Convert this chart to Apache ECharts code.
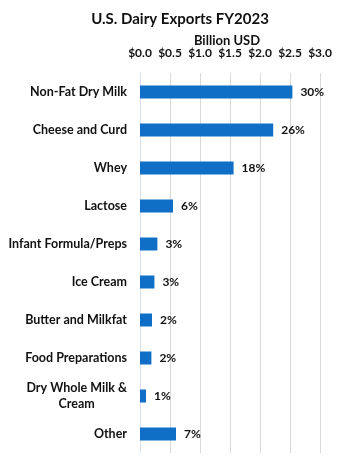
<!DOCTYPE html>
<html><head><meta charset="utf-8">
<script src="https://cdn.jsdelivr.net/npm/echarts@6/dist/echarts.min.js"></script>
<style>html,body{margin:0;padding:0;background:#fff}#c{width:342px;height:466px}</style>
</head><body><div id="c"></div>
<script>
const categories = ["Non-Fat Dry Milk","Cheese and Curd","Whey","Lactose","Infant Formula/Preps","Ice Cream","Butter and Milkfat","Food Preparations","Dry Whole Milk &\nCream","Other"];
const values = [2.54, 2.22, 1.56, 0.55, 0.29, 0.24, 0.20, 0.19, 0.10, 0.60];
const shares = ["30%","26%","18%","6%","3%","3%","2%","2%","1%","7%"];
const FONT = 'Lato';
const chart = echarts.init(document.getElementById('c'));
chart.setOption({
  animation:false,
  title:[{text:'U.S. Dairy Exports FY2023',left:175,top:7,textAlign:'center',
    textStyle:{fontFamily:FONT,fontWeight:'bold',fontSize:15,color:'#111'}},
    {text:'Billion USD',left:227,top:34,textAlign:'center',padding:0,
    textStyle:{fontFamily:FONT,fontWeight:'bold',fontSize:13,color:'#111'}}],
  grid:{left:140,right:22,top:73,bottom:13},
  xAxis:{type:'value',position:'top',min:0,max:3,interval:0.5,
    axisLine:{show:false},axisTick:{show:false},
    axisLabel:{fontFamily:FONT,fontWeight:'bold',fontSize:12,color:'#111',margin:14,
      formatter:v=>'$'+v.toFixed(1)},
    splitLine:{lineStyle:{color:'#d9d9d9',width:1}}},
  yAxis:{type:'category',inverse:true,data:categories,
    axisLine:{show:true,lineStyle:{color:'#d9e4f0'}},axisTick:{show:false},
    axisLabel:{fontFamily:FONT,fontWeight:'bold',fontSize:12.5,color:'#111',margin:13,
      formatter:v=>v.indexOf('\n')>=0?'{c|'+v+'}':v,
      rich:{c:{align:'center',fontFamily:FONT,fontWeight:'bold',fontSize:12.5,color:'#111',lineHeight:16}}}},
  series:[{type:'bar',data:values,barWidth:13,itemStyle:{color:'#0f6fc6'},
    label:{show:true,position:'right',distance:8,fontFamily:FONT,fontWeight:'bold',fontSize:12,color:'#111',
      formatter:p=>shares[p.dataIndex]}}]
});
</script></body></html>
